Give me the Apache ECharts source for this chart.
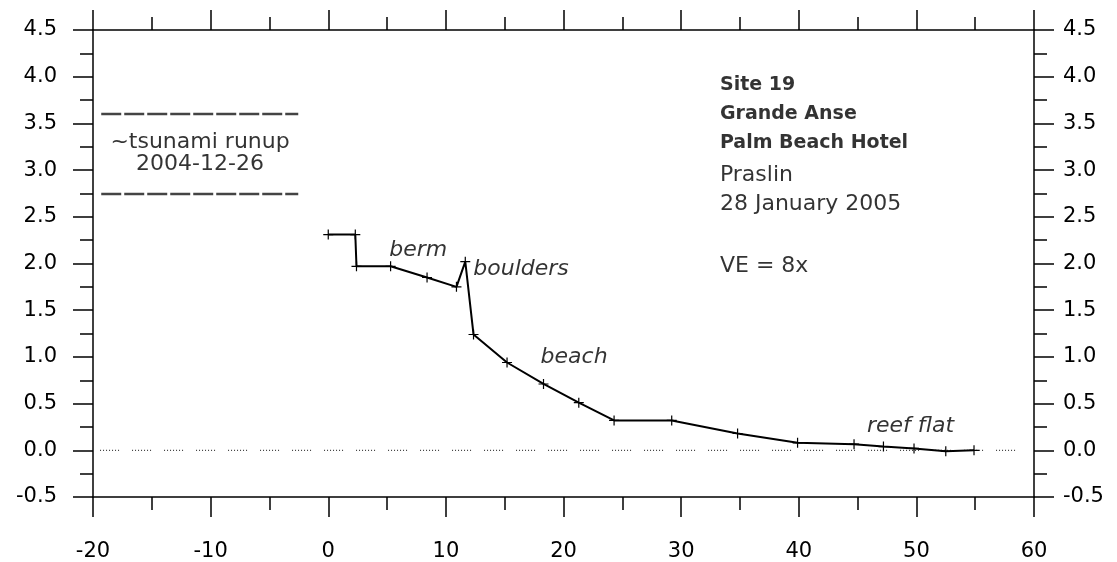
<!DOCTYPE html>
<html>
<head>
<meta charset="utf-8">
<script src="https://cdn.jsdelivr.net/npm/echarts@6/dist/echarts.min.js"></script>
<style>html,body{margin:0;padding:0;background:#fff}#c{width:1117px;height:562px}</style>
</head>
<body>
<div id="c"></div>
<script>
// Beach profile (distance m, elevation m)
const profileX = [0, 2.3, 2.4, 5.3, 8.4, 10.9, 11.65, 12.35, 15.2, 18.3, 21.3, 24.3, 29.2, 34.8, 39.9, 44.7, 47.2, 49.8, 52.5, 54.9];
const profileY = [2.31, 2.31, 1.97, 1.97, 1.85, 1.75, 2.02, 1.24, 0.94, 0.71, 0.51, 0.32, 0.32, 0.18, 0.08, 0.066, 0.04, 0.02, -0.01, 0.0];
// Tsunami runup band
const runupX = [-19.3, -2.55];
const runupTop = 3.6;
const runupBottom = 2.745;
// Sea level reference
const seaLevelX = [-19.4, 59.3];
const seaLevel = 0;
// Axis settings
const xTicks = { min: -20, max: 60, interval: 10 };
const yTicks = { min: -0.5, max: 4.5, interval: 0.5 };
// Annotations [x, y, text]
const notes = [
  [-10.9, 3.30, '~tsunami runup'],
  [-10.9, 3.06, '2004-12-26']
];
const italicNotes = [
  [7.65, 2.14, 'berm', 'center'],
  [12.33, 1.94, 'boulders', 'left'],
  [20.9, 1.00, 'beach', 'center'],
  [49.5, 0.26, 'reef flat', 'center']
];
const siteX = 33.3;
const siteLines = [
  [3.91, 'Site 19', true],
  [3.60, 'Grande Anse', true],
  [3.29, 'Palm Beach Hotel', true],
  [2.94, 'Praslin', false],
  [2.63, '28 January 2005', false],
  [1.97, 'VE = 8x', false]
];

const FONT = 'DejaVu Sans';
const chart = echarts.init(document.getElementById('c'));
const axisCommon = {
  axisLine: { show: true, onZero: false, lineStyle: { color: '#000', width: 1.5 } },
  axisTick: { show: true, inside: false, length: 20, lineStyle: { color: '#000', width: 1.5 } },
  minorTick: { show: true, splitNumber: 2, length: 13, lineStyle: { color: '#000', width: 1.5 } },
  splitLine: { show: false },
  minorSplitLine: { show: false }
};
const labelStyle = { color: '#000', fontFamily: FONT, fontSize: 21 };

const plus = 'path://M4.4,0H5.6V4.4H10V5.6H5.6V10H4.4V5.6H0V4.4H4.4Z';
const txt = { color: '#000', fontFamily: FONT, textBorderWidth: 0 };

const series = [
  {
    type: 'line', data: seaLevelX.map(x => [x, seaLevel]), symbol: 'none', silent: true,
    lineStyle: { color: '#111', width: 1, type: [1, 2, 1, 2, 1, 2, 1, 2, 1, 2, 1, 2, 1, 13] }
  },
  {
    type: 'line', data: runupX.map(x => [x, runupTop]), symbol: 'none', silent: true,
    lineStyle: { color: '#444', width: 2.5, type: [20, 3] }
  },
  {
    type: 'line', data: runupX.map(x => [x, runupBottom]), symbol: 'none', silent: true,
    lineStyle: { color: '#444', width: 2.5, type: [20, 3] }
  },
  {
    type: 'line', data: profileX.map((x, i) => [x, profileY[i]]),
    symbol: plus, symbolSize: 10, itemStyle: { color: '#000' },
    lineStyle: { color: '#000', width: 2 }
  },
  {
    type: 'scatter', symbolSize: 0, silent: true,
    data: notes.map(n => ({ value: [n[0], n[1]], label: { formatter: n[2] } })),
    label: Object.assign({ show: true, position: 'inside', fontSize: 22 }, txt)
  },
  {
    type: 'scatter', symbolSize: 0, silent: true,
    data: italicNotes.map(n => ({ value: [n[0], n[1]], label: { formatter: n[2], align: n[3] } })),
    label: Object.assign({ show: true, position: 'inside', fontSize: 22, fontStyle: 'italic' }, txt)
  },
  {
    type: 'scatter', symbolSize: 0, silent: true,
    data: siteLines.map(n => ({ value: [siteX, n[0]], label: { formatter: n[1], fontWeight: n[2] ? 'bold' : 'normal', fontSize: n[2] ? 19 : 22 } })),
    label: Object.assign({ show: true, position: 'inside', align: 'left' }, txt)
  }
];

chart.setOption({
  animation: false,
  backgroundColor: '#fff',
  grid: { left: 93, right: 83, top: 30, bottom: 64 },
  xAxis: [
    Object.assign({ type: 'value', position: 'bottom', min: xTicks.min, max: xTicks.max, interval: xTicks.interval,
      axisLabel: Object.assign({ margin: 44 }, labelStyle) }, axisCommon),
    Object.assign({ type: 'value', position: 'top', min: xTicks.min, max: xTicks.max, interval: xTicks.interval,
      axisLabel: { show: false } }, axisCommon)
  ],
  yAxis: [
    Object.assign({ type: 'value', position: 'left', min: yTicks.min, max: yTicks.max, interval: yTicks.interval,
      axisLabel: Object.assign({ margin: 36, formatter: v => v.toFixed(1) }, labelStyle) }, axisCommon),
    Object.assign({ type: 'value', position: 'right', min: yTicks.min, max: yTicks.max, interval: yTicks.interval,
      axisLabel: Object.assign({ margin: 29, formatter: v => v.toFixed(1) }, labelStyle) }, axisCommon)
  ],
  series: series
});
</script>
</body>
</html>
